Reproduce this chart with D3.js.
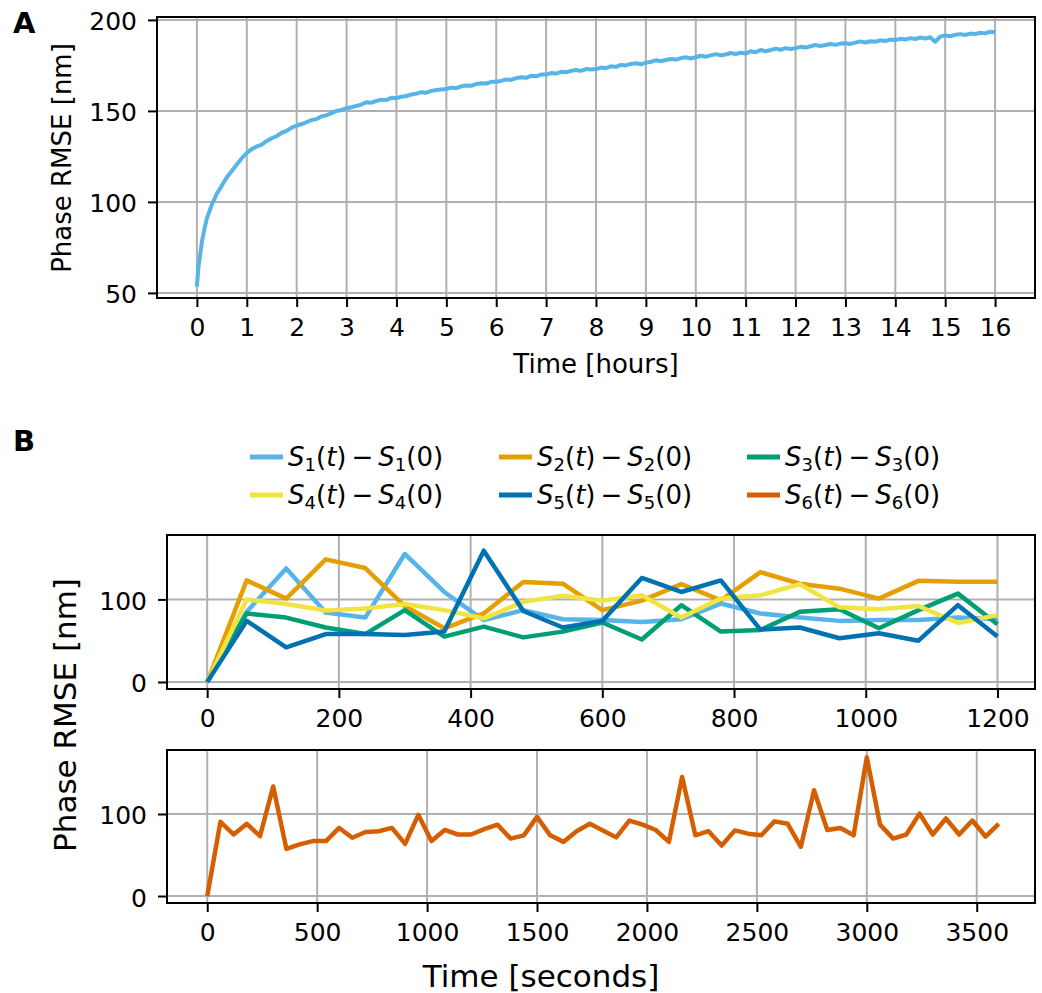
<!DOCTYPE html>
<meta charset="utf-8">
<style>
  body { margin: 0; background: #fff; }
  text { font-family: "DejaVu Sans", sans-serif; fill: #000; }
</style>
<svg width="1042" height="993"></svg>
<script src="https://d3js.org/d3.v7.min.js"></script>
<script>

// ---- panel A: drift over 16 hours ----
var hoursEarly = [0, 0.03, 0.06, 0.1, 0.15, 0.2, 0.3, 0.4, 0.5, 0.6, 0.7, 0.8, 0.9];
var rmseEarly = [53.5, 64, 70, 78, 85, 91, 98.5, 104.5, 109, 113.5, 117, 120.5, 124];
// samples every 0.1 h from 1.0 to 16.0
var rmseLate = [
  127, 129, 130.5, 131.5, 133.5, 135, 136.2, 138, 139, 140.8,
  142, 142.8, 143.8, 145, 145.5, 147, 147.6, 148.8, 150, 150.5,
  151.5, 152, 152.8, 153.5, 154.8, 154.5, 155.5, 156.2, 156, 157.2,
  157, 157.8, 158.2, 159, 159.5, 160.3, 160, 161, 161.5, 161.8,
  162, 162.8, 162.5, 163.5, 164, 163.8, 164.8, 165.2, 165, 166,
  166, 166.5, 167.3, 167, 168, 168.5, 168.2, 169.3, 169, 170,
  170, 170.8, 170.5, 171.5, 171.2, 172, 172.5, 172, 173, 172.8,
  173, 173.8, 173.5, 174.5, 174.2, 175.3, 175, 175.8, 176.2, 175.6,
  176.5, 177, 177.8, 177.3, 178, 178.5, 178.2, 179, 179.5, 178.8,
  179.5, 180.3, 179.8, 180.5, 181.2, 180.6, 181, 181.8, 181.3, 182,
  181.5, 182.8, 182.2, 183.5, 182.8, 183.5, 184.2, 183.6, 184.5, 184,
  184.5, 185.2, 184.8, 185.5, 186.2, 185.6, 186.2, 186.8, 186.3, 187,
  187.2, 186.8, 187.5, 188.2, 187.6, 188.3, 188, 188.8, 188.4, 189.2,
  189, 189.6, 189.2, 190, 189.5, 190.3, 189.8, 190.5, 188, 190.8,
  191.5, 191, 191.8, 192.2, 191.7, 192.5, 192.2, 193, 192.6, 193.5,
  193.2
];
var hoursA = hoursEarly.concat(d3.range(10, 161).map(function(i) { return i / 10; }));
var rmseA = rmseEarly.concat(rmseLate);
var hourTicks = d3.range(0, 17);
var rmseTicksA = [50, 100, 150, 200];

// ---- panel B: per-sensor error, sampled every 60 s ----
var secondsShort = d3.range(0, 1201, 60);
var s1 = [0, 85, 137.5, 84, 78, 155, 109, 75, 87, 76, 75, 72.5, 76, 95, 83, 78, 74, 75, 75, 78, 76];
var s2 = [0, 123, 101, 148.5, 138, 92, 65, 83, 121, 119, 87, 98.5, 118.5, 99, 133, 119, 113, 101, 122.5, 121.5, 121.5];
var s3 = [0, 83, 78, 66, 58, 87, 55, 67, 54, 61, 72, 51.5, 93, 61, 63, 85, 88, 65, 87, 107, 70];
var s4 = [0, 100, 94.5, 86.5, 89, 94.5, 87, 77, 97, 104.5, 98.5, 105, 78, 101, 105, 118.5, 90.5, 88, 92, 71.5, 81];
var s5 = [0, 74, 42, 58, 58, 57, 61, 159, 86, 66, 74, 126, 109, 123, 63.5, 66, 53, 59, 50, 93, 55];
var secondsLong = d3.range(0, 3601, 60);
var s6 = [0, 90.5, 75, 88, 73, 133.5, 57.5, 63, 67, 67, 83, 71, 78, 79, 83, 63.5, 99, 67, 80.5, 75,
  75, 81.5, 87, 70, 74, 96.5, 74, 66, 79, 88, 80, 71.5, 92, 87, 80.5, 66, 145, 74, 79, 61.5,
  80, 76, 74, 91, 88, 60, 129, 80.5, 83, 74, 169, 87, 70, 75, 100.5, 75, 94.5, 75, 92, 72.5, 88];
var seriesNames = ["1", "2", "3", "4", "5", "6"];
var seriesColors = ["#56B4E9", "#E69F00", "#009E73", "#F0E442", "#0072B2", "#D55E00"];
var shortTicks = [0, 200, 400, 600, 800, 1000, 1200];
var longTicks = [0, 500, 1000, 1500, 2000, 2500, 3000, 3500];
var rmseTicksB = [0, 100];

var svg = d3.select("svg");
svg.append("rect").attr("width", 1042).attr("height", 993).attr("fill", "#fff");

// draws grid, data lines, spines and axes for one panel
function panel(x, y, xt, yt, lines, lw) {
  var g = svg.append("g");
  var x0 = x.range()[0], x1 = x.range()[1], y0 = y.range()[0], y1 = y.range()[1];
  g.selectAll(".gx").data(xt).enter().append("line")
    .attr("x1", x).attr("x2", x).attr("y1", y0).attr("y2", y1)
    .attr("stroke", "#b0b0b0").attr("stroke-width", 2);
  g.selectAll(".gy").data(yt).enter().append("line")
    .attr("y1", y).attr("y2", y).attr("x1", x0).attr("x2", x1)
    .attr("stroke", "#b0b0b0").attr("stroke-width", 2);

  lines.forEach(function(l) {
    var line = d3.line().x(function(d, i) { return x(l.xs[i]); }).y(function(d) { return y(d); });
    g.append("path").datum(l.ys).attr("d", line).attr("fill", "none")
      .attr("stroke", l.color).attr("stroke-width", lw)
      .attr("stroke-linejoin", "round").attr("stroke-linecap", "butt");
  });

  g.append("rect").attr("x", x0).attr("y", y1).attr("width", x1 - x0).attr("height", y0 - y1)
    .attr("fill", "none").attr("stroke", "#000").attr("stroke-width", 2);

  var ax = g.append("g").attr("transform", "translate(0," + y0 + ")")
    .call(d3.axisBottom(x).tickValues(xt).tickSize(9).tickPadding(11).tickFormat(d3.format("d")));
  var ay = g.append("g").attr("transform", "translate(" + x0 + ",0)")
    .call(d3.axisLeft(y).tickValues(yt).tickSize(9).tickPadding(11).tickFormat(d3.format("d")));
  [ax, ay].forEach(function(a) {
    a.select(".domain").remove();
    a.selectAll(".tick line").attr("stroke", "#000").attr("stroke-width", 2);
    a.selectAll(".tick text").attr("font-size", 25).attr("font-family", "DejaVu Sans").attr("fill", "#000");
  });
  ay.selectAll(".tick text").attr("dy", "0.4em");
  return g;
}

// panel A
var xA = d3.scaleLinear().domain([-0.8, 16.8]).range([157, 1035]);
var yA = d3.scaleLinear().domain([47.2, 201.6]).range([298, 17]);
panel(xA, yA, hourTicks, rmseTicksA, [{ xs: hoursA, ys: rmseA, color: seriesColors[0] }], 4);

svg.append("text").attr("x", 13).attr("y", 33).attr("font-size", 29).attr("font-weight", "bold").text("A");
svg.append("text").attr("x", 596).attr("y", 373).attr("font-size", 26).attr("text-anchor", "middle").text("Time [hours]");
svg.append("text").attr("transform", "translate(62,158) rotate(-90)").attr("font-size", 26)
  .attr("text-anchor", "middle").attr("dominant-baseline", "central").text("Phase RMSE [nm]");

// panel B, top: sensors 1-5
var xB1 = d3.scaleLinear().domain([-61, 1257]).range([167, 1035]);
var yB1 = d3.scaleLinear().domain([-8.5, 178]).range([689, 535]);
var topSeries = [s1, s2, s3, s4, s5].map(function(s, i) {
  return { xs: secondsShort, ys: s, color: seriesColors[i] };
});
panel(xB1, yB1, shortTicks, rmseTicksB, topSeries, 4.5);

// panel B, bottom: sensor 6
var xB2 = d3.scaleLinear().domain([-183, 3765]).range([167, 1035]);
var yB2 = d3.scaleLinear().domain([-8.5, 178]).range([903, 750]);
panel(xB2, yB2, longTicks, rmseTicksB, [{ xs: secondsLong, ys: s6, color: seriesColors[5] }], 4.5);

svg.append("text").attr("x", 13).attr("y", 451).attr("font-size", 29).attr("font-weight", "bold").text("B");
svg.append("text").attr("x", 541).attr("y", 987).attr("font-size", 31).attr("text-anchor", "middle").text("Time [seconds]");
svg.append("text").attr("transform", "translate(65,715) rotate(-90)").attr("font-size", 31)
  .attr("text-anchor", "middle").attr("dominant-baseline", "central").text("Phase RMSE [nm]");

// legend, 3 columns x 2 rows
var legX = [250, 499, 747], legY = [457, 495];
seriesNames.forEach(function(n, i) {
  var cx = legX[i % 3], cy = legY[Math.floor(i / 3)];
  var lg = svg.append("g").attr("transform", "translate(" + cx + "," + cy + ")");
  lg.append("line").attr("x1", 0).attr("x2", 33).attr("y1", 0).attr("y2", 0)
    .attr("stroke", seriesColors[i]).attr("stroke-width", 5);
  var t = lg.append("text").attr("x", 38).attr("y", 9).attr("font-size", 26);
  t.append("tspan").attr("font-style", "italic").text("S");
  t.append("tspan").attr("font-size", 18).attr("dy", 5).text(n);
  t.append("tspan").attr("dy", -5).text("(");
  t.append("tspan").attr("font-style", "italic").text("t");
  t.append("tspan").text(")");
  t.append("tspan").attr("dx", 5).text("\u2212");
  t.append("tspan").attr("dx", 5).attr("font-style", "italic").text("S");
  t.append("tspan").attr("font-size", 18).attr("dy", 5).text(n);
  t.append("tspan").attr("dy", -5).text("(0)");
});

</script>
